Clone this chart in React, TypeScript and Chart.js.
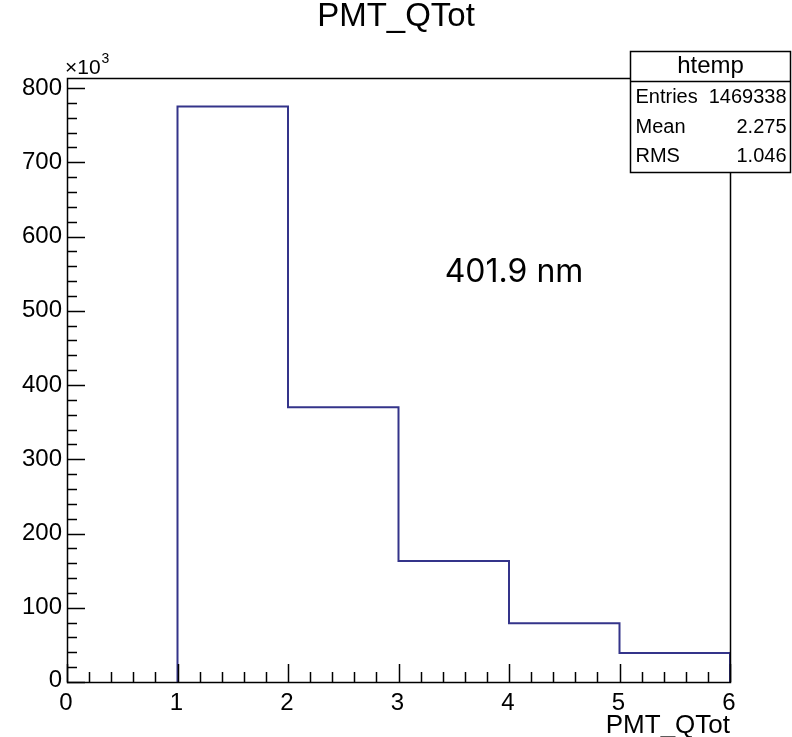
import React, { useEffect, useRef } from 'react';
import { Chart, registerables } from 'chart.js';
Chart.register(...registerables);

// ---- data (values in units of 10^3 entries) ----
const binEdges = [1, 2, 3, 4, 5, 6];
const binCounts = [775, 370, 163, 79, 39];
const xTickValues = [0, 1, 2, 3, 4, 5, 6];
const xTickLabels = ['0', '1', '2', '3', '4', '5', '6'];
const yTickValues = [0, 100, 200, 300, 400, 500, 600, 700, 800];
const yTickLabels = ['0', '100', '200', '300', '400', '500', '600', '700', '800'];
const xRange = [0, 6];
const yRange = [0, 813.5];
const xMinorStep = 0.2;
const yMinorStep = 20;
const statsTitle = 'htemp';
const statsNames = ['Entries', 'Mean', 'RMS'];
const statsValues = ['1469338', '2.275', '1.046'];
const chartTitle = 'PMT_QTot';
const xAxisTitle = 'PMT_QTot';
const yExponentBase = '\u00d710';
const yExponent = '3';
const annotationText = '401.9 nm';

const FONT = '"Liberation Sans", Arial, Helvetica, sans-serif';

const rootPlugin = {
  id: 'rootDecor',
  afterDraw(chart: any) {
    const ctx = chart.ctx as CanvasRenderingContext2D;
    const xs = chart.scales.x;
    const ys = chart.scales.y;
    const { left, right, top, bottom } = chart.chartArea;
    ctx.save();
    ctx.strokeStyle = '#000';
    ctx.lineWidth = 1.5;
    // frame
    ctx.strokeRect(Math.round(left) + 0.5, Math.round(top) + 0.5, Math.round(right - left), Math.round(bottom - top));

    // x ticks (inward)
    ctx.beginPath();
    const nx = Math.round((xRange[1] - xRange[0]) / xMinorStep);
    for (let i = 0; i <= nx; i++) {
      const v = xRange[0] + i * xMinorStep;
      const major = Math.abs(v - Math.round(v)) < 1e-6;
      const px = Math.round(xs.getPixelForValue(v)) + 0.5;
      ctx.moveTo(px, bottom);
      ctx.lineTo(px, bottom - (major ? 18 : 10));
    }
    // y ticks
    const ny = Math.floor((yRange[1] - yRange[0]) / yMinorStep);
    for (let i = 0; i <= ny; i++) {
      const v = yRange[0] + i * yMinorStep;
      const major = v % 100 === 0;
      const py = Math.round(ys.getPixelForValue(v)) + 0.5;
      ctx.moveTo(left, py);
      ctx.lineTo(left + (major ? 18 : 10), py);
    }
    ctx.stroke();

    // tick labels
    ctx.fillStyle = '#000';
    ctx.font = `24px ${FONT}`;
    ctx.textAlign = 'center';
    ctx.textBaseline = 'middle';
    xTickValues.forEach((v, i) => {
      ctx.fillText(xTickLabels[i], xs.getPixelForValue(v) - 1, bottom + 21);
    });
    ctx.textAlign = 'right';
    yTickValues.forEach((v, i) => {
      const py = ys.getPixelForValue(v);
      ctx.fillText(yTickLabels[i], left - 5, v === 0 ? py - 2 : py);
    });

    // exponent
    ctx.textAlign = 'left';
    ctx.textBaseline = 'alphabetic';
    ctx.font = `21px ${FONT}`;
    ctx.fillText(yExponentBase, left - 2, 74);
    const w = ctx.measureText(yExponentBase).width;
    ctx.font = `14px ${FONT}`;
    ctx.fillText(yExponent, left - 2 + w + 1, 63);

    // axis title
    ctx.font = `26px ${FONT}`;
    ctx.textAlign = 'right';
    ctx.textBaseline = 'middle';
    ctx.fillText(xAxisTitle, right, bottom + 44);

    // chart title
    ctx.textAlign = 'center';
    ctx.font = `33px ${FONT}`;
    ctx.fillText(chartTitle, 396, 17);

    // stats box
    const bx = 630.5, by = 51.5, bw = 160, bh = 121, hh = 30;
    ctx.fillStyle = '#fff';
    ctx.fillRect(bx, by, bw, bh);
    ctx.strokeStyle = '#000';
    ctx.lineWidth = 1.5;
    ctx.strokeRect(bx, by, bw, bh);
    ctx.beginPath();
    ctx.moveTo(bx, by + hh);
    ctx.lineTo(bx + bw, by + hh);
    ctx.stroke();
    ctx.fillStyle = '#000';
    ctx.font = `24px ${FONT}`;
    ctx.textAlign = 'center';
    ctx.fillText(statsTitle, bx + bw / 2, by + 15);
    ctx.font = `20px ${FONT}`;
    const rowY = [97, 127, 156];
    statsNames.forEach((n, i) => {
      ctx.textAlign = 'left';
      ctx.fillText(n, bx + 5, rowY[i]);
      ctx.textAlign = 'right';
      ctx.fillText(statsValues[i], bx + bw - 4, rowY[i]);
    });

    // annotation
    ctx.font = `32px Inter, "Open Sans", sans-serif`;
    ctx.textAlign = 'center';
    ctx.fillText(annotationText, 514, 272);
    ctx.restore();
  },
};

export default function App() {
  const ref = useRef<HTMLCanvasElement | null>(null);
  useEffect(() => {
    if (!ref.current) return;
    const pts: { x: number; y: number }[] = [{ x: binEdges[0], y: 0 }];
    binCounts.forEach((c, i) => {
      pts.push({ x: binEdges[i], y: c });
      pts.push({ x: binEdges[i + 1], y: c });
    });
    pts.push({ x: binEdges[binEdges.length - 1], y: 0 });
    const chart = new Chart(ref.current, {
      type: 'line',
      data: {
        datasets: [
          {
            data: pts,
            borderColor: '#34348a',
            borderWidth: 2,
            pointRadius: 0,
            tension: 0,
            fill: false,
          },
        ],
      },
      options: {
        animation: false,
        responsive: false,
        parsing: false as any,
        layout: { padding: { left: 67, top: 78, right: 62, bottom: 55 } },
        plugins: { legend: { display: false }, tooltip: { enabled: false }, title: { display: false } },
        scales: {
          x: { type: 'linear', min: xRange[0], max: xRange[1], display: false },
          y: { type: 'linear', min: yRange[0], max: yRange[1], display: false },
        },
      },
      plugins: [rootPlugin],
    });
    return () => chart.destroy();
  }, []);
  return (
    <div style={{ position: 'fixed', left: 0, top: 0, width: 792, height: 737, background: '#fff' }}>
      <canvas ref={ref} width={792} height={737} style={{ display: 'block' }} />
    </div>
  );
}
